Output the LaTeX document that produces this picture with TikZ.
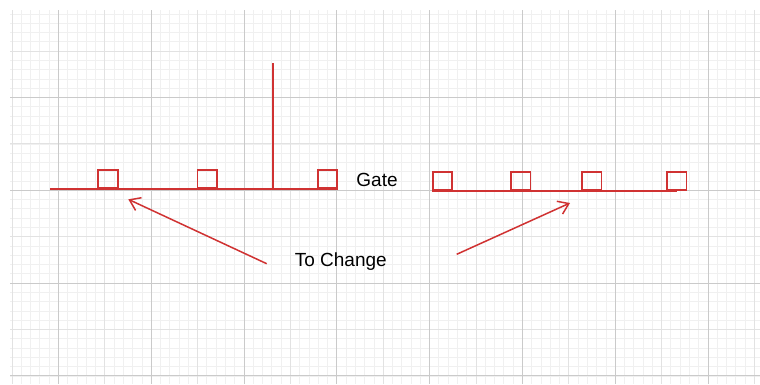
\documentclass[tikz,border=0pt]{standalone}
\usepackage{fontspec}
\setmainfont{Liberation Sans}
\usetikzlibrary{arrows.meta}
\definecolor{penred}{RGB}{208,50,50}
\definecolor{gridfine}{RGB}{240,240,240}
\definecolor{gridmid}{RGB}{226,226,226}
\definecolor{gridmajor}{RGB}{202,202,202}
\tikzset{
  pad/.style={draw=penred, line width=1.9pt, minimum width=19.5pt, minimum height=18pt, inner sep=0pt, anchor=south},
  wire/.style={draw=penred, line width=1.8pt},
  pointer/.style={draw=penred, line width=1.5pt, -{Straight Barb[length=10pt,width=14pt]}},
  lbl/.style={font=\fontsize{19}{22}\selectfont, anchor=base, inner sep=0pt, text=black}
}
\begin{document}
\begin{tikzpicture}[x=1pt,y=-1pt]
\useasboundingbox (0,0) rectangle (760,384);
\fill[white] (0,0) rectangle (760,384);
\begin{scope}
\clip (10,10) rectangle (760,384);
\foreach \i in {-6,...,76} \draw[gridfine, line width=0.6pt] ({58.3+9.28*\i},0) -- ++(0,384);
\foreach \j in {-11,...,31} \draw[gridfine, line width=0.6pt] (0,{97.4+9.28*\j}) -- ++(760,0);
\foreach \i in {-1,...,15} \draw[gridmid, line width=0.7pt] ({58.3+46.4*\i},0) -- ++(0,384);
\foreach \j in {-2,...,7} \draw[gridmid, line width=0.7pt] (0,{97.4+46.4*\j}) -- ++(760,0);
\foreach \i in {0,...,7} \draw[gridmajor, line width=0.8pt] ({58.3+92.8*\i},0) -- ++(0,384);
\foreach \j in {-1,...,3} \draw[gridmajor, line width=0.8pt] (0,{97.4+92.8*\j}) -- ++(760,0);
\end{scope}

% left row
\node[pad] (p1) at (108,189) {};
\node[pad] (p2) at (207.2,189) {};
\node[pad] (p3) at (327.5,189) {};
\coordinate (l0) at (50,189);
\draw[wire] (l0) -- (p3.south east);
\coordinate (gtop) at (272.7,63.3);
\coordinate (gfoot) at (272.7,189);
\draw[wire] (gtop) -- (gfoot);

% right row
\node[pad] (q1) at (442.3,191) {};
\node[pad] (q2) at (520.7,191) {};
\node[pad] (q3) at (591.7,191) {};
\node[pad] (q4) at (676.7,191) {};
\draw[wire] (q1.south west) -- (q4.south);

% labels
\node[lbl] (gate) at (377,186.7) {Gate};
\node[lbl] (change) at (340.8,266.7) {To Change};

% arrows
\coordinate (ta) at (266.7,263.7);
\coordinate (ha) at (128.3,199.3);
\coordinate (tb) at (456.7,254.3);
\coordinate (hb) at (570,203);
\draw[pointer] (ta) -- (ha);
\draw[pointer] (tb) -- (hb);
\end{tikzpicture}
\end{document}
